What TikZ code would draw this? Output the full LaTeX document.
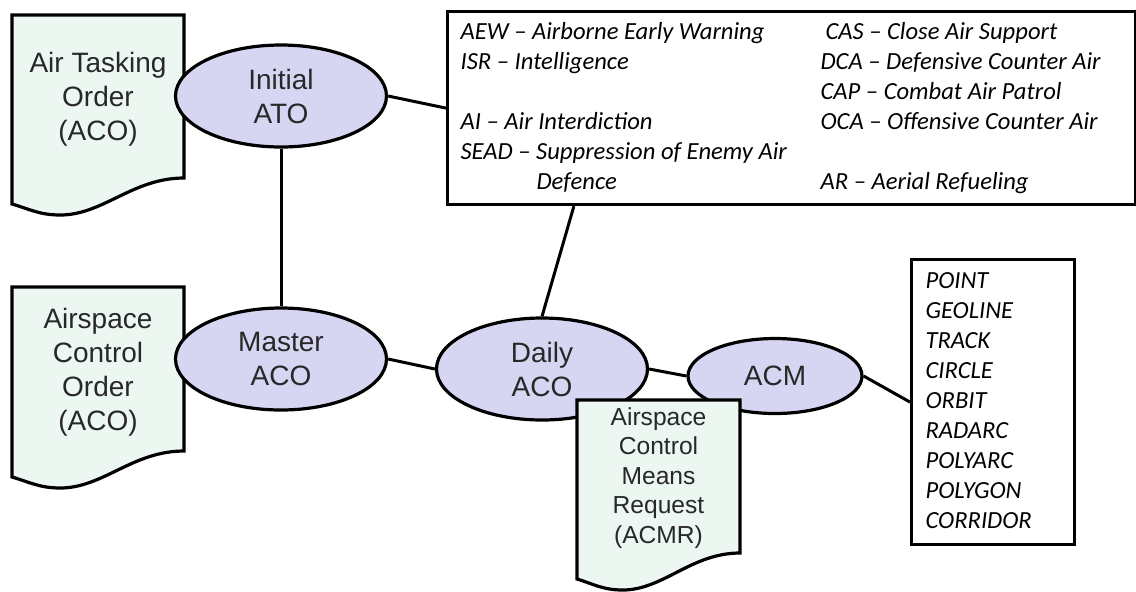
\documentclass[tikz,border=0pt]{standalone}
\usepackage{fontspec}
\setmainfont{Liberation Sans}
\newfontfamily\calibri{Carlito}
\usetikzlibrary{shapes.geometric, calc}
\definecolor{bubblefill}{RGB}{214,214,242}
\definecolor{paperfill}{RGB}{237,247,242}
\definecolor{labelgray}{RGB}{40,40,40}

\newcommand{\docshape}[4]{%
  \draw[docline] (#1,#2) -- (#3,#2) -- (#3,#4)
    .. controls +({-0.3*(#3-#1)},0) and +({0.25*(#3-#1)},0) .. ({#1+0.28*(#3-#1)},{#4+37})
    .. controls +({-0.12*(#3-#1)},0) and +({0.1*(#3-#1)},5) .. (#1,{#4+26}) -- cycle;}

\begin{document}
\begin{tikzpicture}[
    x=0.5pt, y=-0.5pt,
    bubble/.style={draw, ellipse, line width=1.6pt, fill=bubblefill, minimum width=105.5pt, minimum height=51pt, inner sep=0pt, align=center, text=labelgray, font=\fontsize{14}{17}\selectfont},
    doctext/.style={align=center, inner sep=0pt, text=labelgray, font=\fontsize{14}{17}\selectfont},
    docline/.style={draw, line width=1.6pt, fill=paperfill},
    listbox/.style={draw, rectangle, line width=1.6pt, fill=white, inner xsep=6.5pt, inner ysep=0pt, anchor=north west, font=\calibri\itshape\fontsize{12.3}{15}\selectfont},
    link/.style={line width=1.5pt}
]
    \useasboundingbox (0,0) rectangle (1136,591);

    \docshape{12}{15}{184}{178}
    \node[doctext] (atodoc) at (98,99) {Air Tasking\\Order\\(ACO)};
    \docshape{12}{287}{184}{451}
    \node[doctext] (acodoc) at (98,372) {Airspace\\Control\\Order\\(ACO)};

    \node[bubble] (initato) at (281,96) {Initial\\ATO};
    \node[bubble] (masteraco) at (281,359) {Master\\ACO};
    \node[bubble] (dailyaco) at (542,369) {Daily\\ACO};
    \node[bubble, minimum width=87pt, minimum height=37.5pt] (acm) at (775,376) {ACM};

    \node[listbox, minimum width=344pt, minimum height=96.5pt] (missions) at (446,10) {%
      \begin{tabular}{@{}p{180pt}@{}p{151pt}@{}}
        AEW – Airborne Early Warning & \hspace{2.5pt}CAS – Close Air Support\\
        ISR – Intelligence & DCA – Defensive Counter Air\\
         & CAP – Combat Air Patrol\\
        AI – Air Interdiction & OCA – Offensive Counter Air\\
        SEAD – Suppression of Enemy Air & \\
        \hspace{38pt}Defence & AR – Aerial Refueling
      \end{tabular}};
    \node[listbox, minimum width=81.5pt, minimum height=142.5pt] (acmtypes) at (910,258) {%
      \begin{tabular}{@{}p{67.5pt}@{}}
        POINT\\ GEOLINE\\ TRACK\\ CIRCLE\\ ORBIT\\ RADARC\\ POLYARC\\ POLYGON\\ CORRIDOR
      \end{tabular}};

    \docshape{577}{400}{740}{553}
    \node[doctext, font=\fontsize{12.3}{14.75}\selectfont] (acmrdoc) at (658.5,478) {Airspace\\Control\\Means\\Request\\(ACMR)};

    \draw[link] (initato) -- (masteraco);
    \draw[link] (initato.east) -- (missions.west);
    \draw[link] (masteraco.east) -- (dailyaco.west);
    \draw[link] (dailyaco.north) -- ($(missions.south west)!0.185!(missions.south east)$);
    \draw[link] (dailyaco.east) -- (acm.west);
    \draw[link] (acm.east) -- (acmtypes.west);
\end{tikzpicture}
\end{document}
